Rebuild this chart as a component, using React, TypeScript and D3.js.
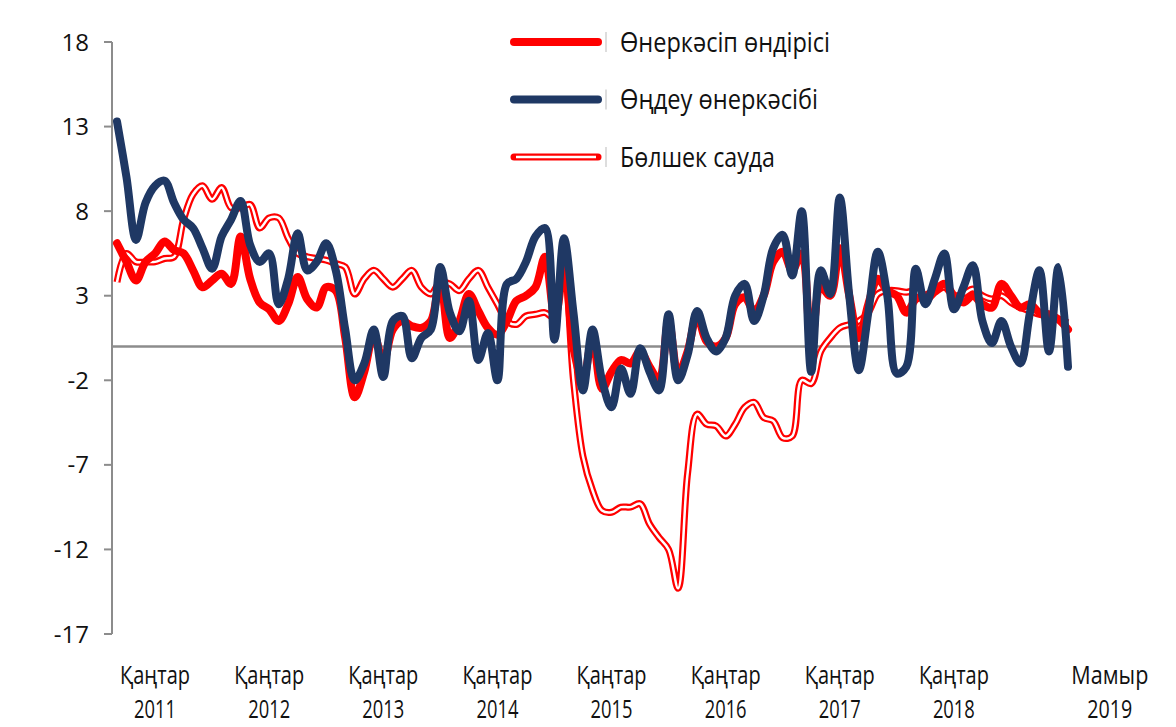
import React from "react"
import * as d3 from "d3"

const width = 1176
const height = 727

// monthly, Jan 2011 .. May 2019
const industry = [
  6.1, 5.0, 3.9, 5.0, 5.5, 6.2, 5.7, 5.5, 4.5, 3.5, 3.9, 4.3,
  3.7, 6.5, 4.0, 2.6, 2.2, 1.5, 2.5, 4.1, 2.8, 2.3, 3.5, 3.3,
  0.5, -3.0, -1.5, 0.7, -0.9, 1.0, 1.5, 1.2, 1.1, 1.5, 3.9, 0.5,
  1.5, 3.1, 2.1, 1.1, 0.7, 1.5, 2.7, 3.0, 3.5, 5.3, 1.9, 5.1,
  -0.1, -2.0, 0.5, -2.5, -1.5, -0.8, -1.0, -0.3, -1.2, -2.0, 1.5, -1.6,
  -0.3, 1.8, 0.3, 0.0, 0.5, 2.5, 2.9, 2.1, 3.0, 5.0, 5.6, 4.5,
  5.5, 0.0, 3.5, 3.0, 5.8, 3.0, 0.5, 2.5, 4.0, 3.3, 3.0, 2.0,
  2.8, 3.0, 3.3, 3.7, 3.0, 2.6, 3.0, 2.5, 2.3, 3.7, 3.0, 2.3,
  2.5, 2.0, 1.9, 1.6, 1.0,
]
const manufacturing = [
  13.3, 10.0, 6.3, 8.5, 9.5, 9.8, 8.5, 7.5, 7.0, 5.8, 4.6, 6.5,
  7.5, 8.6, 6.0, 5.0, 5.5, 2.5, 4.0, 6.7, 4.5, 5.0, 6.1, 4.5,
  1.0, -2.0, -1.0, 1.0, -1.8, 1.5, 1.8, -0.7, 0.5, 1.0, 4.7, 2.0,
  0.9, 2.7, -0.8, 0.8, -2.0, 3.7, 4.0, 5.0, 6.5, 7.0, 0.4, 6.4,
  2.0, -2.6, 1.0, -2.0, -3.6, -1.3, -2.8, -0.1, -1.5, -2.6, 1.9, -2.0,
  -0.5, 2.1, 0.5, -0.3, 0.5, 3.0, 3.7, 1.5, 3.0, 5.8, 6.6, 4.2,
  8.0, -1.5, 4.5, 3.1, 8.8, 3.0, -1.4, 2.0, 5.6, 3.0, -1.6, -1.2,
  4.6, 2.5, 4.0, 5.5, 2.2, 3.5, 4.8, 1.5, 0.2, 1.5, 0.0, -1.0,
  2.0, 4.5, -0.3, 4.7, -1.2,
]
const retail = [
  3.8, 5.5, 5.0, 5.0, 5.0, 5.2, 5.3, 7.5, 9.0, 9.5, 8.7, 9.4,
  8.2, 8.2, 8.4, 7.0, 7.6, 7.6, 6.4, 5.5, 5.3, 5.2, 5.1, 4.9,
  4.7, 3.1, 4.0, 4.5, 4.0, 3.5, 4.0, 4.5, 3.5, 3.1, 3.8, 3.7,
  3.3, 4.0, 4.5, 3.5, 2.5, 1.5, 1.3, 1.8, 1.9, 2.0, 1.7, 4.5,
  -2.0, -6.5, -8.5, -9.7, -9.8, -9.5, -9.5, -9.3, -10.5, -11.3, -12.0, -14.3,
  -7.5, -4.0, -4.6, -4.7, -5.3, -4.6, -3.6, -3.3, -4.2, -4.4, -5.4, -5.3,
  -2.0, -2.2, -0.3, 0.5, 1.1, 1.3, 1.5, 2.0, 3.1, 3.3, 3.3, 3.2,
  3.3, 2.7, 3.2, 3.5, 3.0, 3.1, 3.4, 3.0, 2.8, 3.0, 2.6, 2.3,
  2.1, 1.9, 1.8, 1.6, 1.4,
]

const yTicks = [18, 13, 8, 3, -2, -7, -12, -17]
const xLabels = [
  ["Қаңтар", "2011"], ["Қаңтар", "2012"], ["Қаңтар", "2013"], ["Қаңтар", "2014"],
  ["Қаңтар", "2015"], ["Қаңтар", "2016"], ["Қаңтар", "2017"], ["Қаңтар", "2018"],
  ["Мамыр", "2019"],
]
// month index where each label is centred (labels sit a few months right of the ticks)
const xLabelAt = [4, 16, 28, 40, 52, 64, 76, 88, 104.4]
const legendNames = ["Өнеркәсіп өндірісі", "Өңдеу өнеркәсібі", "Бөлшек сауда"]
const legendWidths = [210, 198, 155]

const red = "#ff0000"
const navy = "#1f3864"
const grey = "#8c8c8c"
const font = "'Open Sans', 'DejaVu Sans', sans-serif"

const x = d3.scaleLinear().domain([0, industry.length - 1]).range([117, 1068])
const y = d3.scaleLinear().domain([-17, 18]).range([634, 42])

const line = d3.line<number>()
  .x((_, i) => x(i))
  .y(d => y(d))
  .curve(d3.curveCatmullRom.alpha(0.5))

const App = () => (
  <svg width={width} height={height} style={{ position: "absolute", left: 0, top: 0, background: "#fff" }}>
    {/* y axis */}
    <line x1={112} x2={112} y1={y(18)} y2={y(-17)} stroke={grey} strokeWidth={2} />
    {yTicks.map(t => (
      <g key={t}>
        <line x1={104} x2={112} y1={y(t)} y2={y(t)} stroke={grey} strokeWidth={2} />
        <text x={89} y={y(t)} dy="0.36em" textAnchor="end" fontSize={24}
          fontFamily={font} fill="#111">{t}</text>
      </g>
    ))}
    {/* zero line */}
    <line x1={112} x2={x(industry.length - 1)} y1={y(0)} y2={y(0)} stroke={grey} strokeWidth={2.5} />

    {/* series */}
    <path d={line(retail) ?? ""} fill="none" stroke={red} strokeWidth={7} strokeLinejoin="round" />
    <path d={line(retail) ?? ""} fill="none" stroke="#fff" strokeWidth={2.5} strokeLinejoin="round" />
    <path d={line(industry) ?? ""} fill="none" stroke={red} strokeWidth={8} strokeLinejoin="round" strokeLinecap="round" />
    <path d={line(manufacturing) ?? ""} fill="none" stroke={navy} strokeWidth={8} strokeLinejoin="round" strokeLinecap="round" />

    {/* legend */}
    {legendNames.map((name, i) => {
      const ly = 42 + i * 57.5
      return (
        <g key={name}>
          {i === 2 ? (
            <>
              <line x1={514} x2={598} y1={ly} y2={ly} stroke={red} strokeWidth={7} strokeLinecap="round" />
              <line x1={516} x2={596} y1={ly} y2={ly} stroke="#fff" strokeWidth={2.5} />
            </>
          ) : (
            <line x1={514} x2={598} y1={ly} y2={ly} stroke={i === 0 ? red : navy} strokeWidth={8} strokeLinecap="round" />
          )}
          <line x1={606} x2={606} y1={ly - 10} y2={ly + 10} stroke="#bbb" strokeWidth={1} />
          <text x={620} y={ly} dy="0.36em" fontSize={27} fontFamily={font} fill="#111"
            textLength={legendWidths[i]} lengthAdjust="spacingAndGlyphs">{name}</text>
        </g>
      )
    })}

    {/* x labels */}
    {xLabels.map((lab, i) => {
      const cx = x(xLabelAt[i])
      const w1 = i === 8 ? 77 : 70
      const w2 = i === 8 ? 45 : 42
      return (
        <g key={i} fontSize={25} fontFamily={font} fill="#111">
          <text x={cx - w1 / 2} y={684} textLength={w1} lengthAdjust="spacingAndGlyphs">{lab[0]}</text>
          <text x={cx - w2 / 2} y={718} textLength={w2} lengthAdjust="spacingAndGlyphs">{lab[1]}</text>
        </g>
      )
    })}
  </svg>
)

export default App
